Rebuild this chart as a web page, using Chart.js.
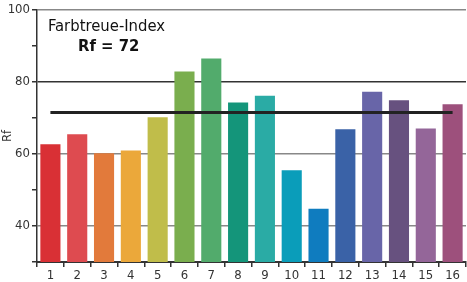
<!DOCTYPE html>
<html>
<head>
<meta charset="utf-8">
<script src="https://cdn.jsdelivr.net/npm/chart.js@4/dist/chart.umd.min.js"></script>
<style>
  body { margin: 0; background: #fff; }
  #wrap { position: relative; width: 467px; height: 282px; }
  .note { position: absolute; font-family: "Liberation Sans Narrow", "DejaVu Sans Condensed", sans-serif; color: #111; white-space: nowrap; }
  #t1 { left: 48px; top: 16px; font-size: 16.5px; }
  #t2 { left: 78px; top: 36px; font-size: 16.5px; font-weight: bold; }
</style>
</head>
<body>
<div id="wrap">
  <canvas id="chart" width="467" height="282"></canvas>
  <div class="note" id="t1">Farbtreue-Index</div>
  <div class="note" id="t2">Rf = 72</div>
</div>
<script>
const labels = ["1","2","3","4","5","6","7","8","9","10","11","12","13","14","15","16"];
const rfValues = [62.7, 65.5, 60.2, 61.0, 70.2, 82.9, 86.5, 74.3, 76.2, 55.5, 44.8, 66.9, 77.3, 74.9, 67.1, 73.8];
const rfMean = 71.5;
const barColors = ["#d93035","#de4b50","#e27a3b","#eba83a","#c0bd4a","#7aae4e","#52ab6c","#14957a",
                   "#2aaba5","#0a9dba","#0f7cbf","#3a62a7","#6865a8","#67517f","#946699","#9d507c"];

const axisFont = { family: "'Liberation Sans Narrow', 'DejaVu Sans Condensed', sans-serif", size: 13 };

new Chart(document.getElementById("chart"), {
  data: {
    labels: labels,
    datasets: [
      {
        type: "line",
        data: labels.map(() => rfMean),
        borderColor: "#222",
        borderWidth: 3,
        pointRadius: 0,
        order: 0
      },
      {
        type: "bar",
        data: rfValues,
        backgroundColor: barColors,
        barPercentage: 0.75,
        categoryPercentage: 1,
        order: 1
      }
    ]
  },
  options: {
    responsive: false,
    animation: false,
    layout: { padding: { top: 10, right: 1 } },
    plugins: { legend: { display: false }, tooltip: { enabled: false } },
    scales: {
      x: {
        offset: true,
        grid: { offset: true, drawOnChartArea: false, drawTicks: true, tickLength: 5, color: "#333", lineWidth: 1.5 },
        border: { color: "#333", width: 2 },
        ticks: { color: "#333", font: axisFont, padding: 1 },
        afterFit: s => { s.height = 20; }
      },
      y: {
        min: 30,
        max: 100,
        ticks: {
          stepSize: 10,
          color: "#333",
          font: axisFont,
          padding: 2,
          callback: v => (v % 20 === 0 ? v : "")
        },
        grid: {
          tickLength: 5,
          tickColor: "#333",
          lineWidth: 1.5,
          color: c => {
            const v = c.tick && c.tick.value;
            if (v === 80) return "#333";
            if (v === 60 || v === 40 || v === 100) return "#888";
            return "rgba(0,0,0,0)";
          }
        },
        border: { color: "#333", width: 1.5 },
        title: { display: true, text: "Rf", color: "#333", font: axisFont, padding: { top: 0, bottom: 2 } },
        afterFit: s => { s.width = 37; }
      }
    }
  }
});
</script>
</body>
</html>
